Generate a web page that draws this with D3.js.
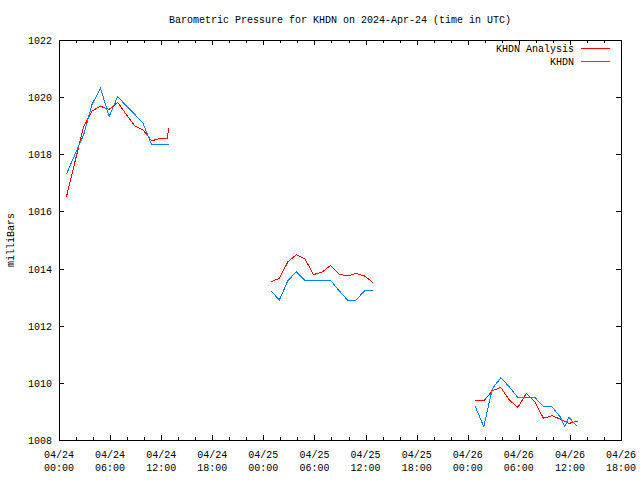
<!DOCTYPE html>
<html><head><meta charset="utf-8">
<script src="https://cdn.jsdelivr.net/npm/d3@7"></script>
<style>
body{margin:0;background:#fff;}
text{font-family:"Liberation Mono","DejaVu Sans Mono",monospace;font-size:10px;fill:#000;}
</style></head><body>
<svg id="chart" width="640" height="480"></svg>
<script>
const titleText = "Barometric Pressure for KHDN on 2024-Apr-24 (time in UTC)";
const yLabel = "milliBars";
const seriesNames = ["KHDN Analysis", "KHDN"];
const seriesColors = ["#ff0000", "#0080ff"];
const yTicks = [1008, 1010, 1012, 1014, 1016, 1018, 1020, 1022];

const analysisTimes = [
 "2024-04-24 00:53","2024-04-24 01:53","2024-04-24 02:53","2024-04-24 03:53","2024-04-24 04:53","2024-04-24 05:53",
 "2024-04-24 06:53","2024-04-24 07:53","2024-04-24 08:53","2024-04-24 09:53","2024-04-24 10:53","2024-04-24 11:53",
 "2024-04-24 12:43","2024-04-24 12:53",
 "2024-04-25 00:53","2024-04-25 01:53","2024-04-25 02:53","2024-04-25 03:53","2024-04-25 04:53","2024-04-25 05:53",
 "2024-04-25 06:53","2024-04-25 07:53","2024-04-25 08:53","2024-04-25 09:53","2024-04-25 10:53","2024-04-25 11:53","2024-04-25 12:53",
 "2024-04-26 00:53","2024-04-26 01:53","2024-04-26 02:53","2024-04-26 03:53","2024-04-26 04:53","2024-04-26 05:53",
 "2024-04-26 06:53","2024-04-26 07:53","2024-04-26 08:53","2024-04-26 09:53","2024-04-26 10:53","2024-04-26 11:53","2024-04-26 12:53"
];
const analysisValues = [
 1016.52,1017.75,1018.95,1019.52,1019.68,1019.57,1019.82,1019.40,1019.00,1018.85,1018.47,1018.56,1018.56,1018.91,
 1013.54,1013.66,1014.24,1014.49,1014.34,1013.79,1013.87,1014.11,1013.80,1013.74,1013.83,1013.74,1013.51,
 1009.37,1009.37,1009.72,1009.84,1009.40,1009.14,1009.63,1009.34,1008.76,1008.85,1008.73,1008.58,1008.66
];
const khdnTimes = [
 "2024-04-24 00:53","2024-04-24 01:53","2024-04-24 02:53","2024-04-24 03:53","2024-04-24 04:53","2024-04-24 05:53",
 "2024-04-24 06:53","2024-04-24 07:53","2024-04-24 08:53","2024-04-24 09:53","2024-04-24 10:53","2024-04-24 11:53","2024-04-24 12:53",
 "2024-04-25 00:53","2024-04-25 01:53","2024-04-25 02:53","2024-04-25 03:53","2024-04-25 04:53","2024-04-25 05:53",
 "2024-04-25 06:53","2024-04-25 07:53","2024-04-25 08:53","2024-04-25 09:53","2024-04-25 10:53","2024-04-25 11:53","2024-04-25 12:53",
 "2024-04-26 00:53","2024-04-26 01:53","2024-04-26 02:53","2024-04-26 03:53","2024-04-26 04:53","2024-04-26 05:53",
 "2024-04-26 06:53","2024-04-26 07:53","2024-04-26 08:53","2024-04-26 09:53","2024-04-26 10:53","2024-04-26 11:23","2024-04-26 11:53","2024-04-26 12:53"
];
const khdnValues = [
 1017.31,1018.00,1018.67,1019.75,1020.31,1019.32,1020.02,1019.70,1019.40,1019.08,1018.33,1018.33,1018.33,
 1013.22,1012.90,1013.58,1013.89,1013.59,1013.59,1013.59,1013.59,1013.23,1012.90,1012.90,1013.22,1013.22,
 1009.17,1008.47,1009.79,1010.18,1009.86,1009.49,1009.49,1009.49,1009.17,1009.17,1008.80,1008.47,1008.79,1008.47
];

const parse = d3.utcParse("%Y-%m-%d %H:%M");
const svg = d3.select("#chart");
const L = 59, R = 621, T = 40, B = 440;
const x = d3.scaleUtc().domain([parse("2024-04-24 00:00"), parse("2024-04-26 18:00")]).range([L, R]);
const y = d3.scaleLinear().domain([1008, 1022]).range([B, T]);

const majorX = d3.utcHour.every(6).range(x.domain()[0], new Date(+x.domain()[1] + 1));
const minorX = d3.utcHour.every(2).range(x.domain()[0], new Date(+x.domain()[1] + 1)).filter(d => d.getUTCHours() % 6 !== 0);

function tickAxis(axis, tr) {
  const g = svg.append("g").attr("transform", tr).call(axis);
  g.select(".domain").remove();
  g.selectAll("line").attr("stroke", "#000").attr("shape-rendering", "crispEdges");
  return g;
}
tickAxis(d3.axisBottom(x).tickValues(minorX).tickSize(-3).tickFormat(""), `translate(0,${B})`);
tickAxis(d3.axisBottom(x).tickValues(majorX).tickSize(-5).tickFormat(""), `translate(0,${B})`);
tickAxis(d3.axisTop(x).tickValues(minorX).tickSize(-3).tickFormat(""), `translate(0,${T})`);
tickAxis(d3.axisTop(x).tickValues(majorX).tickSize(-5).tickFormat(""), `translate(0,${T})`);
tickAxis(d3.axisLeft(y).tickValues(yTicks).tickSize(-5).tickFormat(""), `translate(${L},0)`);
tickAxis(d3.axisRight(y).tickValues(yTicks).tickSize(-5).tickFormat(""), `translate(${R},0)`);

const fmtD = d3.utcFormat("%m/%d"), fmtT = d3.utcFormat("%H:%M");
const xl = svg.append("g").selectAll("text").data(majorX).join("text")
  .attr("text-anchor", "middle").attr("x", d => x(d));
xl.append("tspan").attr("x", d => x(d)).attr("y", 458).text(d => fmtD(d));
xl.append("tspan").attr("x", d => x(d)).attr("y", 471).text(d => fmtT(d));
svg.append("g").selectAll("text").data(yTicks).join("text")
  .attr("text-anchor", "end").attr("x", 52).attr("y", d => y(d) + 4).text(d => d);

svg.append("rect").attr("x", L + 0.5).attr("y", T + 0.5).attr("width", R - L).attr("height", B - T)
  .attr("fill", "none").attr("stroke", "#000").attr("shape-rendering", "crispEdges");

svg.append("text").attr("x", (L + R) / 2).attr("y", 23).attr("text-anchor", "middle").text(titleText);
svg.append("text").attr("transform", "translate(14,240) rotate(-90)").attr("text-anchor", "middle").text(yLabel);

function segments(times, values) {
  const pts = times.map((t, i) => ({ t: parse(t), v: values[i] }));
  const segs = [[]];
  pts.forEach((p, i) => {
    if (i > 0 && (p.t - pts[i - 1].t) > 3 * 3600e3) segs.push([]);
    segs[segs.length - 1].push(p);
  });
  return segs;
}
const line = d3.line().x(d => x(d.t)).y(d => y(d.v));
const all = [[analysisTimes, analysisValues], [khdnTimes, khdnValues]];
all.forEach(([tt, vv], si) => {
  svg.append("g").selectAll("path").data(segments(tt, vv)).join("path")
    .attr("d", line).attr("fill", "none").attr("stroke", seriesColors[si]).attr("stroke-width", 1)
    .attr("shape-rendering", "crispEdges");
});

seriesNames.forEach((n, i) => {
  const ly = 48 + i * 13;
  svg.append("text").attr("x", 574).attr("y", ly + 4).attr("text-anchor", "end").text(n);
  svg.append("line").attr("x1", 581).attr("x2", 610).attr("y1", ly + 0.5).attr("y2", ly + 0.5)
    .attr("stroke", seriesColors[i]).attr("shape-rendering", "crispEdges");
});
</script></body></html>
